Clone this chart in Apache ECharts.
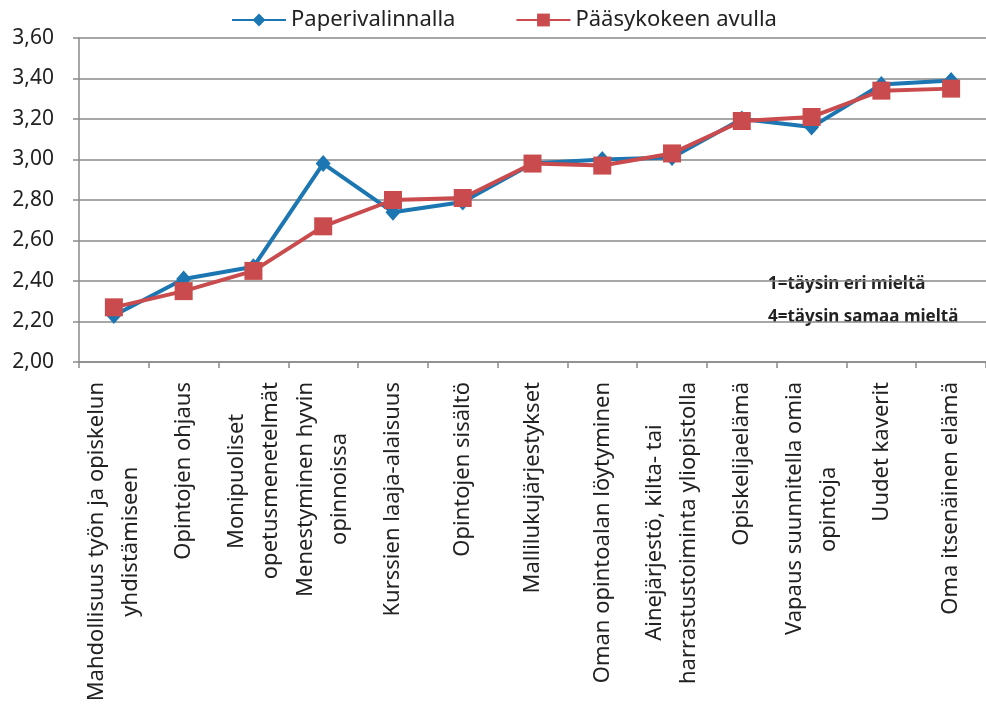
<!DOCTYPE html>
<html>
<head>
<meta charset="utf-8">
<script src="https://cdn.jsdelivr.net/npm/echarts@6/dist/echarts.min.js"></script>
<style>
html,body{margin:0;padding:0;background:#fff;}
#chart{width:986px;height:708px;}
</style>
</head>
<body>
<div id="chart"></div>
<script>
const categories = [
  "Mahdollisuus työn ja opiskelun\nyhdistämiseen",
  "Opintojen ohjaus",
  "Monipuoliset\nopetusmenetelmät",
  "Menestyminen hyvin\nopinnoissa",
  "Kurssien laaja-alaisuus",
  "Opintojen sisältö",
  "Mallilukujärjestykset",
  "Oman opintoalan löytyminen",
  "Ainejärjestö, kilta- tai\nharrastustoiminta yliopistolla",
  "Opiskelijaelämä",
  "Vapaus suunnitella omia\nopintoja",
  "Uudet kaverit",
  "Oma itsenäinen elämä"
];
const seriesNames = ["Paperivalinnalla", "Pääsykokeen avulla"];
const paperivalinnalla = [2.23, 2.41, 2.47, 2.98, 2.74, 2.79, 2.98, 3.00, 3.01, 3.20, 3.16, 3.37, 3.39];
const paasykokeen = [2.27, 2.35, 2.45, 2.67, 2.80, 2.81, 2.98, 2.97, 3.03, 3.19, 3.21, 3.34, 3.35];
const yTicks = { min: 2.0, max: 3.6, interval: 0.2 };
const noteLines = ["1=täysin eri mieltä", "4=täysin samaa mieltä"];

const FONT = "Noto Sans";
const LABEL_SIZE = 22;
const LINE_H = 34;
const PAD_SIZE = 4;

// Rotated labels are right-aligned; to centre shorter lines under the longest one,
// a transparent filler is appended at the end of each shorter line.
const ctx = document.createElement('canvas').getContext('2d');
ctx.font = PAD_SIZE + 'px "' + FONT + '"';
const padW = ctx.measureText('x').width || 2;
ctx.font = LABEL_SIZE + 'px "' + FONT + '"';
const lineWidth = function (s) { return ctx.measureText(s).width; };
const labelMap = {};
categories.forEach(function (cat) {
  const lines = cat.split('\n');
  const widths = lines.map(lineWidth);
  const maxW = Math.max.apply(null, widths);
  labelMap[cat] = lines.map(function (l, i) {
    const n = Math.round((maxW - widths[i]) / 2 / padW);
    let s = '{c|' + l + '}';
    if (n > 0) s += '{t|' + 'x'.repeat(n) + '}';
    return s;
  }).join('\n');
});

const chart = echarts.init(document.getElementById('chart'));
chart.setOption({
  animation: false,
  backgroundColor: '#ffffff',
  textStyle: { fontFamily: FONT },
  legend: {
    top: 4,
    left: 226,
    itemWidth: 54,
    itemHeight: 16,
    itemGap: 60,
    textStyle: { fontSize: 22, color: '#222', fontFamily: FONT },
    data: seriesNames
  },
  grid: { left: 79, top: 38, right: -21, bottom: 346, containLabel: false },
  xAxis: {
    type: 'category',
    data: categories,
    boundaryGap: true,
    axisLine: { show: true, lineStyle: { color: '#8a8a8a', width: 1.5 } },
    axisTick: { show: true, length: 6, lineStyle: { color: '#8a8a8a', width: 1.5 } },
    axisLabel: {
      interval: 0,
      rotate: 90,
      margin: 20,
      fontSize: LABEL_SIZE,
      lineHeight: LINE_H,
      color: '#222',
      fontFamily: FONT,
      formatter: function (v) { return labelMap[v]; },
      rich: {
        c: { fontSize: LABEL_SIZE, lineHeight: LINE_H, color: '#222', fontFamily: FONT },
        t: { fontSize: PAD_SIZE, lineHeight: LINE_H, color: 'rgba(0,0,0,0)', fontFamily: FONT }
      }
    },
    splitLine: { show: false }
  },
  yAxis: {
    type: 'value',
    min: yTicks.min,
    max: yTicks.max,
    interval: yTicks.interval,
    axisLine: { show: true, lineStyle: { color: '#8a8a8a', width: 1.5 } },
    axisTick: { show: true, length: 6, lineStyle: { color: '#8a8a8a', width: 1.5 } },
    axisLabel: {
      fontSize: 21,
      color: '#222',
      margin: 25,
      fontFamily: FONT,
      formatter: function (v) { return v.toFixed(2).replace('.', ','); }
    },
    splitLine: { show: true, lineStyle: { color: '#8a8a8a', width: 1.5 } }
  },
  graphic: [
    {
      type: 'group',
      left: 753,
      top: 262,
      z: 100,
      children: [
        { type: 'rect', shape: { x: 0, y: 0, width: 227, height: 78 }, style: { fill: '#ffffff' } },
        { type: 'text', x: 15, y: 14, style: { text: noteLines[0], font: 'bold 17px "Noto Sans"', fill: '#222' } },
        { type: 'text', x: 15, y: 47, style: { text: noteLines[1], font: 'bold 17px "Noto Sans"', fill: '#222' } }
      ]
    }
  ],
  series: [
    {
      name: seriesNames[0],
      type: 'line',
      data: paperivalinnalla,
      symbol: 'diamond',
      symbolSize: [15, 17],
      lineStyle: { color: '#1b76b2', width: 4 },
      itemStyle: { color: '#1b76b2' },
      z: 2
    },
    {
      name: seriesNames[1],
      type: 'line',
      data: paasykokeen,
      symbol: 'rect',
      symbolSize: 18,
      lineStyle: { color: '#c94b4d', width: 4 },
      itemStyle: { color: '#c94b4d' },
      z: 3
    }
  ]
});
</script>
</body>
</html>
